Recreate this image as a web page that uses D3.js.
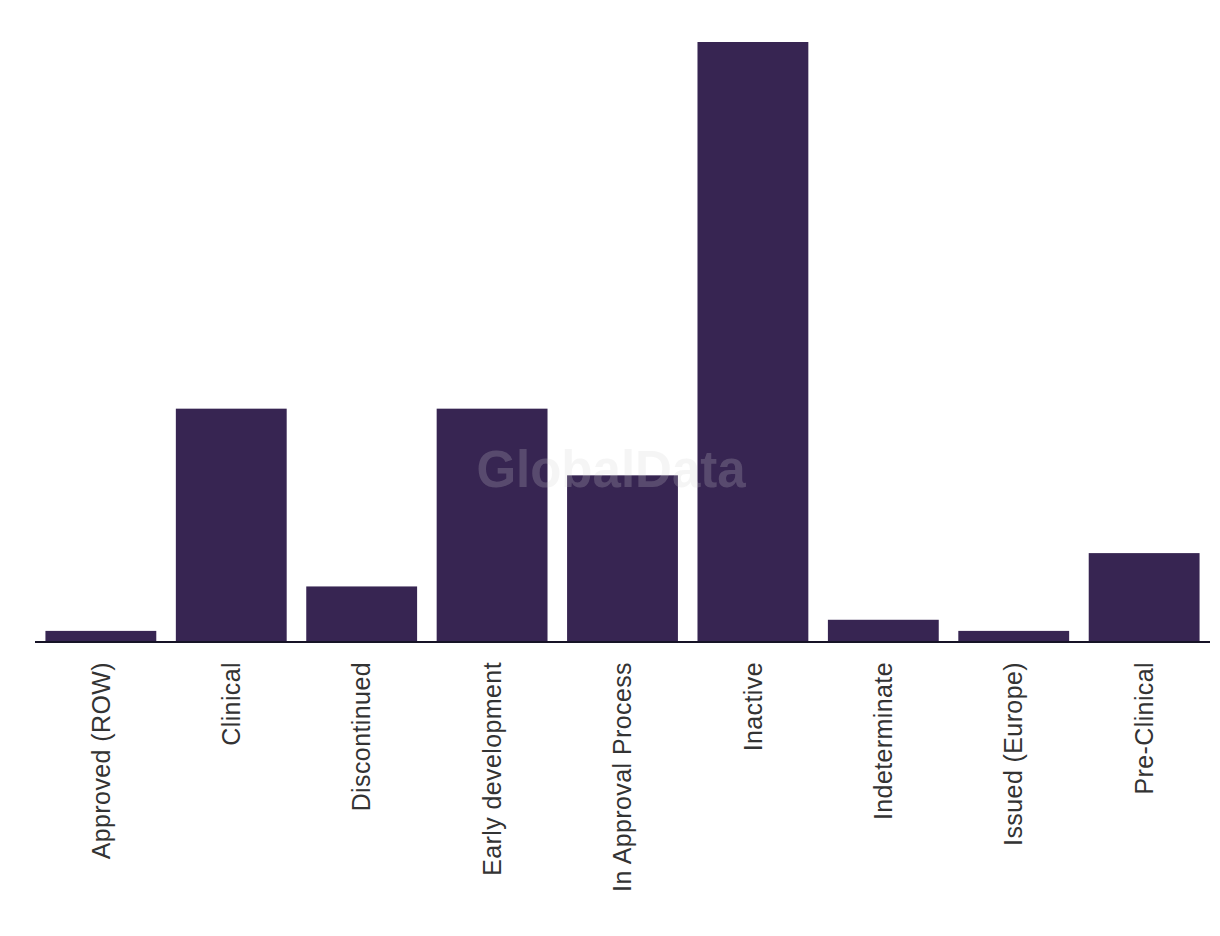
<!DOCTYPE html>
<html><head><meta charset="utf-8">
<script src="https://cdn.jsdelivr.net/npm/d3@7"></script>
<style>body{margin:0;background:#fff}svg{display:block}</style>
</head><body>
<svg id="chart" width="1220" height="936"></svg>
<script>
const categories = ["Approved (ROW)","Clinical","Discontinued","Early development","In Approval Process","Inactive","Indeterminate","Issued (Europe)","Pre-Clinical"];
const values = [1,21,5,21,15,54,2,1,8];

const svg = d3.select("#chart");
const x = d3.scaleBand().domain(categories).range([35,1210]).paddingInner(0.15).paddingOuter(0.08);
const y = d3.scaleLinear().domain([0,54]).range([642,42]);

svg.append("g").selectAll("rect").data(categories).join("rect")
  .attr("x", d=>x(d)).attr("width", x.bandwidth())
  .attr("y", (d,i)=>y(values[i])).attr("height", (d,i)=>y(0)-y(values[i]))
  .attr("fill","#372552");

svg.append("text").attr("x",611).attr("y",487).attr("text-anchor","middle")
  .attr("font-family","Liberation Sans, Arial, sans-serif").attr("font-weight","bold")
  .attr("font-size",51).attr("fill","#d0d0d0").attr("fill-opacity",0.22).text("GlobalData");

const ax = svg.append("g").attr("transform","translate(0,642)")
  .call(d3.axisBottom(x).tickSize(0).tickPadding(0));
ax.select(".domain").attr("stroke","#161326").attr("stroke-width",2).attr("d","M35,0H1210");
ax.selectAll("text").attr("font-family","Liberation Sans, Arial, sans-serif").attr("font-size",25)
  .attr("letter-spacing","0.4px")
  .attr("fill","#333").attr("text-anchor","end")
  .attr("transform","rotate(-90)").attr("dy","0.35em").attr("x",-20).attr("y",0);
</script>
</body></html>
